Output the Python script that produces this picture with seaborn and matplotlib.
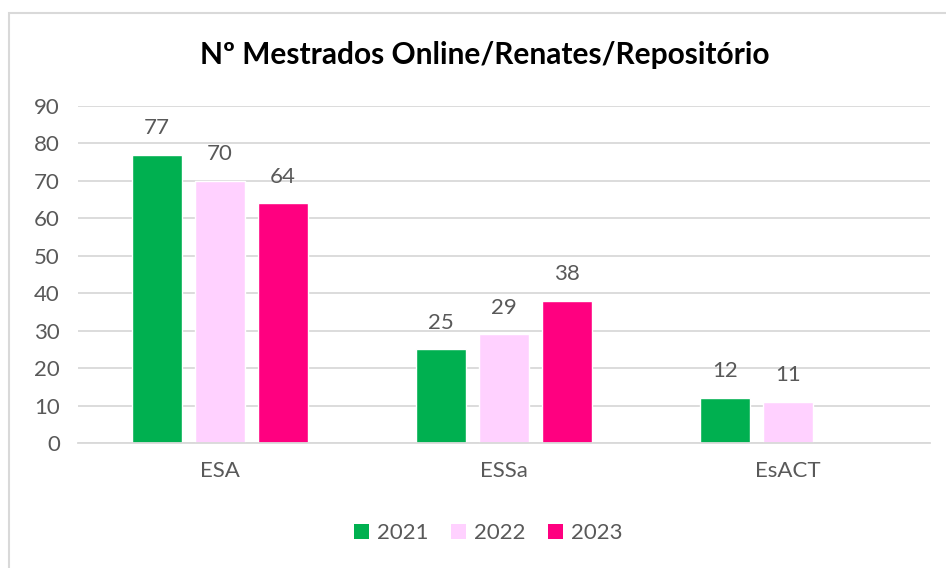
import numpy as np
import pandas as pd
import seaborn as sns
import matplotlib.pyplot as plt
from matplotlib.patches import Patch, Rectangle

schools = ['ESA', 'ESSa', 'EsACT']
years = ['2021', '2022', '2023']
v2021 = [77, 25, 12]
v2022 = [70, 29, 11]
v2023 = [64, 38, np.nan]
y_ticks = [0, 10, 20, 30, 40, 50, 60, 70, 80, 90]

colors = ['#00B050', '#FFD1FF', '#FF0080']
txt = '#595959'

df = pd.DataFrame({
    'escola': schools * 3,
    'ano': [years[0]] * 3 + [years[1]] * 3 + [years[2]] * 3,
    'n': v2021 + v2022 + v2023,
})

sns.set_style('white')
plt.rcParams['font.family'] = ['Lato', 'DejaVu Sans']

fig = plt.figure(figsize=(9.46, 5.68), dpi=100)
ax = fig.add_axes([78 / 946, 1 - 443 / 568, (930 - 78) / 946, (443 - 106) / 568])

sns.barplot(data=df, x='escola', y='n', hue='ano', palette=colors,
            width=0.665, gap=0.2, ax=ax, legend=False, saturation=1)

for c in ax.containers:
    labels = ['' if np.isnan(v) else '%d' % v for v in c.datavalues]
    ax.bar_label(c, labels=labels, padding=12, fontsize=16, color=txt)

ax.set_ylim(0, 90)
ax.set_xlim(-0.5, 2.5)
ax.set_yticks(y_ticks)
ax.yaxis.grid(True, color='#D9D9D9', linewidth=1.3)
ax.set_axisbelow(True)
for s in ['top', 'right', 'left']:
    ax.spines[s].set_visible(False)
ax.spines['bottom'].set_color('#D9D9D9')
ax.spines['bottom'].set_linewidth(1.3)
ax.tick_params(axis='both', length=0, labelsize=16, colors=txt)
ax.tick_params(axis='x', pad=13)
ax.tick_params(axis='y', pad=13)
ax.set_xlabel('')
ax.set_ylabel('')

fig.text(485 / 946, 1 - 55 / 568, 'Nº Mestrados Online/Renates/Repositório',
         ha='center', va='center', fontsize=21.5, fontweight='bold', color='black')

handles = [Patch(facecolor=c, edgecolor='none') for c in colors]
fig.legend(handles, years, loc='center', bbox_to_anchor=(488 / 946, 1 - 533 / 568),
           ncol=3, frameon=False, fontsize=16, labelcolor=txt,
           handlelength=0.68, handleheight=0.68, handletextpad=0.36, columnspacing=1.0)

fig.patches.append(Rectangle((8.5 / 946, -0.1), 2, 1.1 - 13.5 / 568, transform=fig.transFigure,
                             fill=False, edgecolor='#D9D9D9', linewidth=1.5))

fig.savefig('out.png', dpi=100)
